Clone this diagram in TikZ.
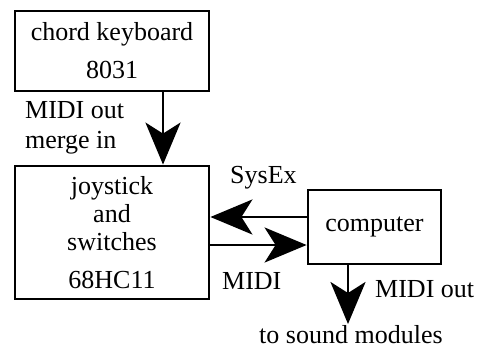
\documentclass[tikz,border=0pt]{standalone}
\usepackage{fontspec}
\setmainfont{Liberation Serif}
\usetikzlibrary{arrows.meta}
\tikzset{
    box/.style={draw,line width=2.8pt,align=center,inner sep=0pt},
    arr/.style={line width=2.8pt,-{Stealth[length=42pt,width=35pt,inset=11pt]}},
    lbl/.style={anchor=base west,inner sep=0pt}
}
\begin{document}
\begin{tikzpicture}[x=1pt,y=-1pt,font=\fontsize{26}{28}\selectfont]
\useasboundingbox (0,0) rectangle (481,348);
\node[box,minimum width=194,minimum height=80] (kbd) at (112,51) {chord keyboard\\[10pt]8031};
\node[box,minimum width=194,minimum height=133] (joy) at (112,232.5) {joystick\\and\\switches\\[10pt]68HC11};
\node[box,minimum width=133,minimum height=74] (comp) at (374.5,227) {computer};
\coordinate (merge) at (163,0);
\coordinate (sx) at (0,217);
\coordinate (mi) at (0,245);
\coordinate (out) at (348,324);
\draw[arr] (kbd.south -| merge) -- (joy.north -| merge);
\draw[arr] (comp.west |- sx) -- (joy.east |- sx);
\draw[arr] (joy.east |- mi) -- (comp.west |- mi);
\draw[arr] (comp.south -| out) -- (out);
\node[lbl] (kbdout) at (25,118) {MIDI out};
\node[lbl] (joyin) at (25,148) {merge in};
\node[lbl] (sysex) at (230,183) {SysEx};
\node[lbl] (midi) at (222,289) {MIDI};
\node[lbl] (compout) at (375,297) {MIDI out};
\node[lbl] (sound) at (259,343) {to sound modules};
\end{tikzpicture}
\end{document}
